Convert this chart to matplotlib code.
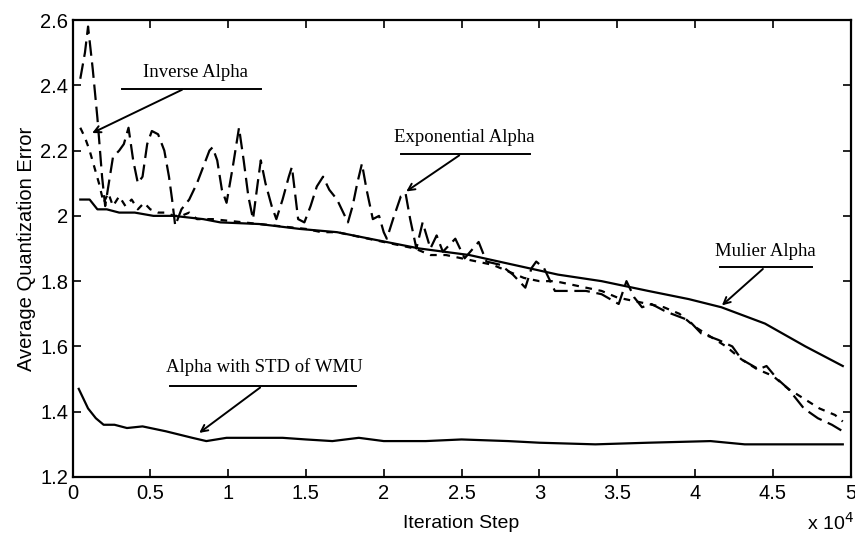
import matplotlib
matplotlib.use("Agg")
import matplotlib.pyplot as plt

# x in units of 10^4 iterations
exp_x = [0.05, 0.08, 0.10, 0.13, 0.16, 0.19, 0.21, 0.22, 0.26, 0.30, 0.33, 0.36, 0.39, 0.42, 0.45, 0.48,
         0.51, 0.55, 0.59, 0.62, 0.64, 0.66, 0.70, 0.75, 0.80, 0.84, 0.88, 0.90, 0.93, 0.96, 0.99, 1.03,
         1.07, 1.10, 1.13, 1.16, 1.19, 1.21, 1.24, 1.28, 1.31, 1.35, 1.39, 1.41, 1.43, 1.45, 1.49, 1.53,
         1.57, 1.61, 1.65, 1.70, 1.74, 1.77, 1.80, 1.83, 1.86, 1.89, 1.93, 1.97, 2.00, 2.02, 2.06, 2.11,
         2.14, 2.17, 2.21, 2.25, 2.30, 2.34, 2.38, 2.46, 2.52, 2.61, 2.66, 2.75, 2.83, 2.91, 2.95, 2.98,
         3.03, 3.10, 3.20, 3.30, 3.40, 3.51, 3.56, 3.61, 3.66, 3.72, 3.80, 3.85, 3.96, 4.04, 4.15, 4.24,
         4.30, 4.41, 4.46, 4.53, 4.60, 4.70, 4.79, 4.88, 4.95]
exp_y = [2.42, 2.50, 2.58, 2.45, 2.30, 2.12, 2.03, 2.06, 2.18, 2.20, 2.22, 2.27, 2.17, 2.10, 2.12, 2.22,
         2.26, 2.25, 2.20, 2.12, 2.05, 1.97, 2.02, 2.05, 2.10, 2.15, 2.20, 2.21, 2.17, 2.08, 2.04, 2.15,
         2.27, 2.17, 2.06, 1.99, 2.10, 2.17, 2.10, 2.03, 1.99, 2.05, 2.12, 2.15, 2.07, 1.99, 1.98, 2.03,
         2.09, 2.12, 2.08, 2.05, 2.01, 1.98, 2.03, 2.10, 2.16, 2.08, 1.99, 2.00, 1.95, 1.93, 1.99, 2.06,
         2.07, 1.99, 1.90, 1.98, 1.90, 1.94, 1.89, 1.93, 1.87, 1.92, 1.86, 1.85, 1.82, 1.78, 1.84, 1.86,
         1.84, 1.77, 1.77, 1.77, 1.76, 1.73, 1.80, 1.75, 1.72, 1.73, 1.71, 1.70, 1.68, 1.64, 1.62, 1.60,
         1.56, 1.53, 1.54, 1.50, 1.47, 1.41, 1.38, 1.36, 1.34]

inv_x = [0.05, 0.08, 0.11, 0.14, 0.17, 0.20, 0.23, 0.26, 0.30, 0.34, 0.38, 0.42, 0.46, 0.50, 0.55,
         0.60, 0.65, 0.70, 0.75, 0.80, 0.90, 1.00, 1.10, 1.20, 1.30, 1.40, 1.50, 1.60, 1.70, 1.80,
         1.90, 2.00, 2.10, 2.20, 2.30, 2.40, 2.50, 2.60, 2.70, 2.80, 2.90, 3.00, 3.10, 3.20, 3.30,
         3.40, 3.50, 3.60, 3.70, 3.80, 3.90, 4.00, 4.10, 4.20, 4.30, 4.40, 4.50, 4.60, 4.70, 4.80,
         4.90, 4.95]
inv_y = [2.27, 2.24, 2.20, 2.15, 2.10, 2.04, 2.07, 2.03, 2.06, 2.03, 2.05, 2.02, 2.04, 2.02, 2.01,
         2.01, 2.00, 2.00, 2.01, 1.99, 1.99, 1.985, 1.98, 1.975, 1.97, 1.965, 1.96, 1.95, 1.95, 1.94,
         1.93, 1.92, 1.91, 1.90, 1.88, 1.88, 1.87, 1.86, 1.85, 1.83, 1.81, 1.80, 1.80, 1.79, 1.78,
         1.77, 1.75, 1.74, 1.73, 1.72, 1.70, 1.66, 1.63, 1.60, 1.56, 1.53, 1.51, 1.47, 1.44, 1.41,
         1.39, 1.37]

mul_x = [0.05, 0.11, 0.16, 0.22, 0.30, 0.40, 0.52, 0.65, 0.84, 0.95, 1.20, 1.46, 1.70, 1.91, 2.23,
         2.55, 2.93, 3.12, 3.40, 3.70, 3.96, 4.17, 4.45, 4.71, 4.95]
mul_y = [2.05, 2.05, 2.02, 2.02, 2.01, 2.01, 2.00, 2.00, 1.99, 1.98, 1.975, 1.96, 1.95, 1.93, 1.90,
         1.88, 1.84, 1.82, 1.80, 1.77, 1.745, 1.72, 1.67, 1.60, 1.54]

std_x = [0.04, 0.07, 0.10, 0.15, 0.20, 0.27, 0.35, 0.45, 0.60, 0.77, 0.86, 0.99, 1.20, 1.35, 1.50,
         1.67, 1.84, 2.00, 2.27, 2.50, 2.80, 3.00, 3.36, 3.70, 4.10, 4.32, 4.60, 4.95]
std_y = [1.47, 1.44, 1.41, 1.38, 1.36, 1.36, 1.35, 1.355, 1.34, 1.32, 1.31, 1.32, 1.32, 1.32, 1.315,
         1.31, 1.32, 1.31, 1.31, 1.315, 1.31, 1.305, 1.30, 1.305, 1.31, 1.30, 1.30, 1.30]

x_ticks = [0, 0.5, 1, 1.5, 2, 2.5, 3, 3.5, 4, 4.5, 5]
x_ticklabels = ["0", "0.5", "1", "1.5", "2", "2.5", "3", "3.5", "4", "4.5", "5"]
y_ticks = [1.2, 1.4, 1.6, 1.8, 2.0, 2.2, 2.4, 2.6]
y_ticklabels = ["1.2", "1.4", "1.6", "1.8", "2", "2.2", "2.4", "2.6"]

plt.rcParams['font.family'] = ['Liberation Sans', 'DejaVu Sans']

fig = plt.figure(figsize=(8.55, 5.38), dpi=100)
ax = fig.add_axes([0.0848, 0.1134, 0.9100, 0.8494])

lw = 1.6
ax.plot(exp_x, exp_y, color='black', lw=lw, linestyle=(0, (7, 3)))
ax.plot(inv_x, inv_y, color='black', lw=lw, linestyle=(0, (3, 3)))
ax.plot(mul_x, mul_y, color='black', lw=lw, linestyle='-')
ax.plot(std_x, std_y, color='black', lw=lw, linestyle='-')

ax.set_xlim(0, 5)
ax.set_ylim(1.2, 2.6)
ax.set_xticks(x_ticks)
ax.set_xticklabels(x_ticklabels)
ax.set_yticks(y_ticks)
ax.set_yticklabels(y_ticklabels)
ax.tick_params(direction='in', top=True, right=True, length=6, width=1.2, labelsize=14.5, pad=5)
ax.tick_params(axis='y', pad=3)
for s in ax.spines.values():
    s.set_linewidth(1.6)

ax.set_xlabel("Iteration Step", fontsize=14, labelpad=9)
ax.set_ylabel("Average Quantization Error", fontsize=14.5, labelpad=3)
fig.text(0.971, 0.008, "x 10$^{4}$", fontsize=14, ha='center', va='bottom')

serif = ['Liberation Serif', 'DejaVu Serif']
ann = [
    ("Inverse Alpha", 0.79, 2.44, 0.32, 1.21, 2.39, 0.72, 0.11, 2.25),
    ("Exponential Alpha", 2.52, 2.24, 2.11, 2.94, 2.19, 2.50, 2.13, 2.07),
    ("Mulier Alpha", 4.45, 1.89, 4.16, 4.75, 1.843, 4.45, 4.16, 1.72),
    ("Alpha with STD of WMU", 1.23, 1.537, 0.625, 1.82, 1.479, 1.22, 0.80, 1.33),
]
for txt, tx, ty, ux0, ux1, uy, ax0, px, py in ann:
    ax.text(tx, ty, txt, family=serif, fontsize=13.5, ha='center', va='center')
    ax.plot([ux0, ux1], [uy, uy], color='black', lw=1.4)
    ax.annotate("", xy=(px, py), xytext=(ax0, uy),
                arrowprops=dict(arrowstyle='->', color='black', lw=1.4, mutation_scale=12))

fig.savefig("out.png", dpi=100)
